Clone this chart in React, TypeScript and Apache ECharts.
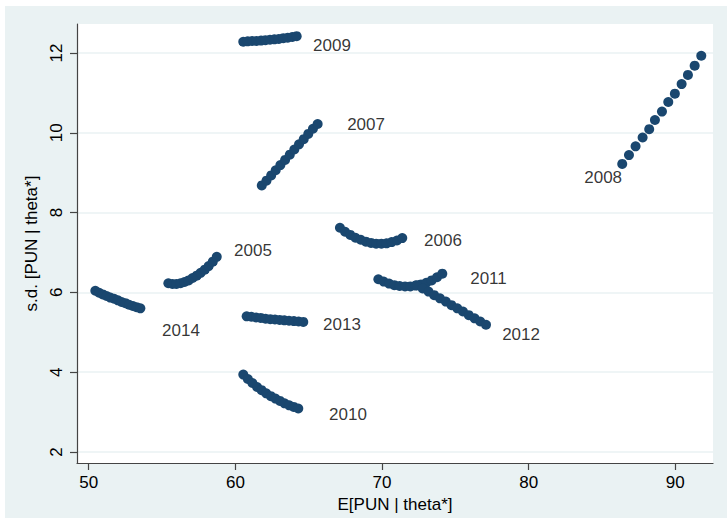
import React, { useEffect, useRef } from "react";
import * as echarts from "echarts";

// ---- data ----
const years = ["2005", "2006", "2007", "2008", "2009", "2010", "2011", "2012", "2013", "2014"];

const x2005 = [55.43, 55.71, 55.98, 56.26, 56.53, 56.81, 57.08, 57.36, 57.63, 57.91, 58.18, 58.46, 58.73];
const y2005 = [6.23, 6.21, 6.21, 6.23, 6.26, 6.30, 6.36, 6.42, 6.49, 6.57, 6.66, 6.77, 6.89];

const x2006 = [67.13, 67.48, 67.84, 68.19, 68.55, 68.90, 69.25, 69.60, 69.96, 70.31, 70.66, 71.02, 71.38];
const y2006 = [7.62, 7.52, 7.44, 7.37, 7.32, 7.27, 7.24, 7.22, 7.22, 7.23, 7.26, 7.30, 7.36];

const x2007 = [61.80, 62.12, 62.44, 62.75, 63.07, 63.39, 63.71, 64.02, 64.34, 64.66, 64.97, 65.29, 65.61];
const y2007 = [8.68, 8.80, 8.93, 9.06, 9.19, 9.32, 9.45, 9.58, 9.71, 9.84, 9.97, 10.10, 10.22];

const x2008 = [86.38, 86.84, 87.29, 87.77, 88.22, 88.61, 89.09, 89.52, 89.97, 90.43, 90.86, 91.32, 91.77];
const y2008 = [9.22, 9.44, 9.66, 9.88, 10.09, 10.32, 10.53, 10.77, 10.98, 11.22, 11.45, 11.68, 11.93];

const x2009 = [60.54, 60.84, 61.14, 61.44, 61.75, 62.05, 62.36, 62.66, 62.96, 63.27, 63.57, 63.88, 64.18];
const y2009 = [12.28, 12.29, 12.30, 12.30, 12.31, 12.32, 12.33, 12.34, 12.35, 12.37, 12.38, 12.40, 12.42];

const x2010 = [60.54, 60.85, 61.16, 61.48, 61.79, 62.10, 62.42, 62.73, 63.04, 63.35, 63.67, 63.98, 64.29];
const y2010 = [3.94, 3.83, 3.73, 3.63, 3.55, 3.47, 3.40, 3.34, 3.28, 3.22, 3.17, 3.13, 3.09];

const x2011 = [69.75, 70.11, 70.48, 70.84, 71.20, 71.57, 71.93, 72.29, 72.66, 73.02, 73.38, 73.75, 74.11];
const y2011 = [6.33, 6.27, 6.22, 6.18, 6.16, 6.15, 6.15, 6.17, 6.20, 6.24, 6.30, 6.38, 6.47];

const x2012 = [72.38, 72.77, 73.17, 73.56, 73.95, 74.35, 74.74, 75.13, 75.52, 75.92, 76.31, 76.70, 77.09];
const y2012 = [6.18, 6.10, 6.02, 5.93, 5.85, 5.77, 5.68, 5.60, 5.52, 5.43, 5.35, 5.27, 5.19];

const x2013 = [60.77, 61.09, 61.41, 61.73, 62.06, 62.38, 62.70, 63.02, 63.34, 63.66, 63.99, 64.31, 64.63];
const y2013 = [5.40, 5.39, 5.37, 5.36, 5.34, 5.33, 5.32, 5.31, 5.30, 5.29, 5.28, 5.27, 5.26];

const x2014 = [50.45, 50.71, 50.96, 51.22, 51.47, 51.73, 51.99, 52.24, 52.50, 52.75, 53.01, 53.26, 53.52];
const y2014 = [6.04, 5.99, 5.95, 5.91, 5.87, 5.84, 5.80, 5.76, 5.73, 5.69, 5.66, 5.63, 5.60];

const seriesX = [x2005, x2006, x2007, x2008, x2009, x2010, x2011, x2012, x2013, x2014];
const seriesY = [y2005, y2006, y2007, y2008, y2009, y2010, y2011, y2012, y2013, y2014];

// marker-label anchor positions (centre of each year label)
const labelX = [61.2, 74.16, 68.91, 85.08, 66.59, 67.68, 77.26, 79.48, 67.27, 56.29];
const labelY = [7.05, 7.3, 10.2, 8.875, 12.18, 2.95, 6.35, 4.95, 5.2, 5.05];

const xTicks = [50, 60, 70, 80, 90];
const yTicks = [2, 4, 6, 8, 10, 12];

const xTitle = "E[PUN | theta*]";
const yTitle = "s.d. [PUN | theta*]";

const NAVY = "#1A476F";
const BG = "#EAF2F3";
const FONT = "'Liberation Sans', Arial, Helvetica, sans-serif";

export default function App() {
  const ref = useRef<HTMLDivElement>(null);

  useEffect(() => {
    if (!ref.current) return;
    const chart = echarts.init(ref.current, null, { renderer: "svg" });

    const yearSeries = years.map((yr, i) => ({
      name: yr,
      type: "scatter",
      symbol: "circle",
      symbolSize: 10,
      itemStyle: { color: NAVY, opacity: 1 },
      data: seriesX[i].map((x, j) => [x, seriesY[i][j]]),
      z: 3,
    }));

    const labelSeries = {
      name: "labels",
      type: "scatter",
      symbol: "circle",
      symbolSize: 1,
      itemStyle: { color: "rgba(0,0,0,0)" },
      data: years.map((yr, i) => ({ value: [labelX[i], labelY[i]], name: yr })),
      label: {
        show: true,
        position: "inside",
        formatter: (p: any) => p.name,
        color: "#000",
        fontSize: 17,
        fontFamily: FONT,
      },
      z: 4,
    };

    chart.setOption({
      animation: false,
      backgroundColor: "transparent",
      textStyle: { fontFamily: FONT },
      graphic: [
        {
          type: "rect",
          shape: { x: 5, y: 6, width: 722, height: 512 },
          style: { fill: BG },
          z: -100,
          silent: true,
        },
      ],
      grid: {
        left: 77,
        top: 24,
        right: 14,
        bottom: 57,
        show: true,
        backgroundColor: "#ffffff",
        borderWidth: 0,
        containLabel: false,
      },
      xAxis: {
        type: "value",
        min: 49.2,
        max: 92.57,
        name: xTitle,
        nameLocation: "middle",
        nameGap: 32,
        nameTextStyle: { fontSize: 17, color: "#000", fontFamily: FONT },
        axisLine: { show: true, onZero: false, lineStyle: { color: "#444", width: 1.2 } },
        axisTick: { show: true, length: 7, customValues: xTicks, lineStyle: { color: "#444", width: 1.2 } },
        axisLabel: { customValues: xTicks, fontSize: 17, color: "#000", margin: 11, fontFamily: FONT },
        splitLine: { show: false },
      },
      yAxis: {
        type: "value",
        min: 1.725,
        max: 12.725,
        name: yTitle,
        nameLocation: "middle",
        nameGap: 29,
        nameTextStyle: { fontSize: 17, color: "#000", fontFamily: FONT },
        axisLine: { show: true, onZero: false, lineStyle: { color: "#444", width: 1.2 } },
        axisTick: { show: true, length: 7, customValues: yTicks, lineStyle: { color: "#444", width: 1.2 } },
        axisLabel: { customValues: yTicks, rotate: 90, fontSize: 17, color: "#000", margin: 12, fontFamily: FONT },
        splitLine: { show: true, lineStyle: { color: BG, width: 1.5 } },
      },
      series: [...yearSeries, labelSeries],
    } as any);

    return () => chart.dispose();
  }, []);

  return (
    <div
      ref={ref}
      style={{ position: "absolute", left: 0, top: 0, width: 727, height: 520, background: "#fff" }}
    />
  );
}
